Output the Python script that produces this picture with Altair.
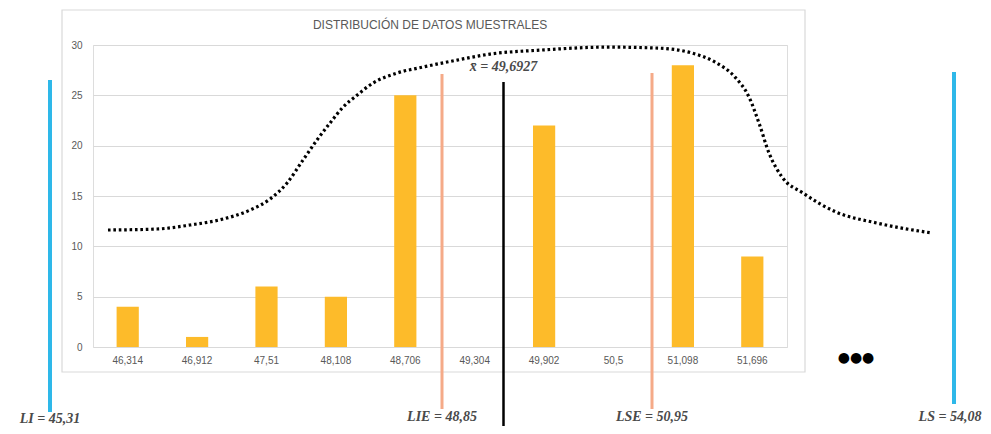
import altair as alt
import pandas as pd

# ---------------- data ----------------
categories = ["46,314", "46,912", "47,51", "48,108", "48,706",
              "49,304", "49,902", "50,5", "51,098", "51,696"]
counts = [4, 1, 6, 5, 25, 0, 22, 0, 28, 9]

# schematic dotted curve (value, height in count units)
curve_x = [45.873, 46.349, 46.670, 46.990, 47.252, 47.447, 47.612, 47.767,
           47.903, 48.029, 48.156, 48.292, 48.447, 48.680, 48.933, 49.263,
           49.584, 50.069, 50.720, 51.215, 51.545, 51.769, 51.963, 52.099,
           52.196, 52.293, 52.420, 52.624, 52.944, 53.342, 53.876]
curve_y = [11.62, 11.72, 12.12, 12.71, 13.60, 14.70, 16.29, 18.57,
           20.56, 22.24, 23.83, 25.02, 26.22, 27.21, 27.81, 28.50,
           29.10, 29.49, 29.79, 29.69, 29.20, 28.30, 26.81, 24.83,
           22.24, 19.27, 16.88, 15.29, 13.41, 12.31, 11.32]

# reference limits
ann_names = ["LI", "LIE", "mean", "LSE", "LS"]
ann_values = [45.31, 48.85, 49.6927, 50.95, 54.08]
ann_labels = ["LI = 45,31", "LIE = 48,85", "x\u0304 = 49,6927", "LSE = 50,95", "LS = 54,08"]

title_text = "DISTRIBUCIÓN DE DATOS MUESTRALES"

# ---------------- styling ----------------
GOLD = "#FDBB2A"
BLUE = "#2EB8E9"
SALMON = "#F5AA88"
GRID = "#D9D9D9"
LABEL = "#595959"

bars_df = pd.DataFrame({"cat": categories, "count": counts})
curve_df = pd.DataFrame({"v": curve_x, "c": curve_y})
ann_df = pd.DataFrame({"name": ann_names, "value": ann_values, "label": ann_labels})

# schematic (piecewise) position scale for the annotation layer
ann_scale = alt.Scale(domain=ann_values, range=[-43, 349, 410.5, 559, 861], zero=False, nice=False)
curve_scale = alt.Scale(domain=[45.31, 54.08], range=[-43, 860], zero=False, nice=False)
yscale = alt.Scale(domain=[0, 30], nice=False)

frame = alt.Chart(pd.DataFrame({"a": [0]})).mark_rect(
    fillOpacity=0, stroke=GRID, strokeWidth=1.2
).encode(x=alt.value(-31), x2=alt.value(712), y=alt.value(-35), y2=alt.value(327))

title = alt.Chart(pd.DataFrame({"t": [title_text]})).mark_text(
    font="Liberation Sans", fontSize=12, color=LABEL
).encode(text="t:N", x=alt.value(337), y=alt.value(-20))

bars = alt.Chart(bars_df).mark_bar(color=GOLD).encode(
    x=alt.X("cat:N", sort=categories,
            scale=alt.Scale(paddingInner=0.68, paddingOuter=0.34),
            axis=alt.Axis(title=None, labelAngle=0, ticks=False, domain=False, grid=False,
                          labelColor=LABEL, labelFont="Liberation Sans", labelFontSize=10,
                          labelPadding=8)),
    y=alt.Y("count:Q", scale=yscale,
            axis=alt.Axis(title=None, values=[0, 5, 10, 15, 20, 25, 30], grid=True,
                          gridColor=GRID, gridWidth=1.2, domain=False, ticks=False,
                          labelColor=LABEL, labelFont="Liberation Sans", labelFontSize=10,
                          labelPadding=11)),
)

curve = alt.Chart(curve_df).mark_line(
    color="black", strokeWidth=3.2, strokeDash=[2.6, 2.8], interpolate="monotone"
).encode(
    x=alt.X("v:Q", scale=curve_scale, axis=None),
    y=alt.Y("c:Q", scale=yscale),
)

line_styles = {
    "LI": (BLUE, 4, 35, 367),
    "LIE": (SALMON, 3, 29, 364),
    "mean": ("black", 2.5, 37, 392),
    "LSE": (SALMON, 3, 28, 364),
    "LS": (BLUE, 4, 27, 359),
}
rules = []
for nm, (col, w, y1, y2) in line_styles.items():
    rules.append(
        alt.Chart(ann_df).transform_filter(alt.datum.name == nm).mark_rule(
            color=col, strokeWidth=w
        ).encode(x=alt.X("value:Q", scale=ann_scale, axis=None),
                 y=alt.value(y1), y2=alt.value(y2))
    )

label_pos = {"LI": (374, 0), "LIE": (372, 0), "mean": (22, 0), "LSE": (372, 0), "LS": (372, -4)}
labels = []
for nm, (yy, ddx) in label_pos.items():
    labels.append(
        alt.Chart(ann_df).transform_filter(alt.datum.name == nm).mark_text(
            font="Liberation Serif", fontStyle="italic", fontWeight="bold",
            fontSize=14, color="#4a4a4a", dx=ddx
        ).encode(x=alt.X("value:Q", scale=ann_scale, axis=None),
                 y=alt.value(yy), text="label:N")
    )

dots = alt.Chart(pd.DataFrame({"t": ["●●●"]})).mark_text(
    font="DejaVu Sans", fontSize=14, color="black"
).encode(text="t:N", x=alt.value(763), y=alt.value(313))

chart = alt.layer(frame, title, bars, curve, *rules, *labels, dots).resolve_scale(
    x="independent"
).properties(
    width=694, height=302,
    autosize=alt.AutoSizeParams(type="none"),
    padding={"left": 85, "top": 37, "right": 196, "bottom": 79},
).configure_view(stroke=None).configure(background="white")

chart.save("out.html", embed_options={"renderer": "svg", "actions": False})
